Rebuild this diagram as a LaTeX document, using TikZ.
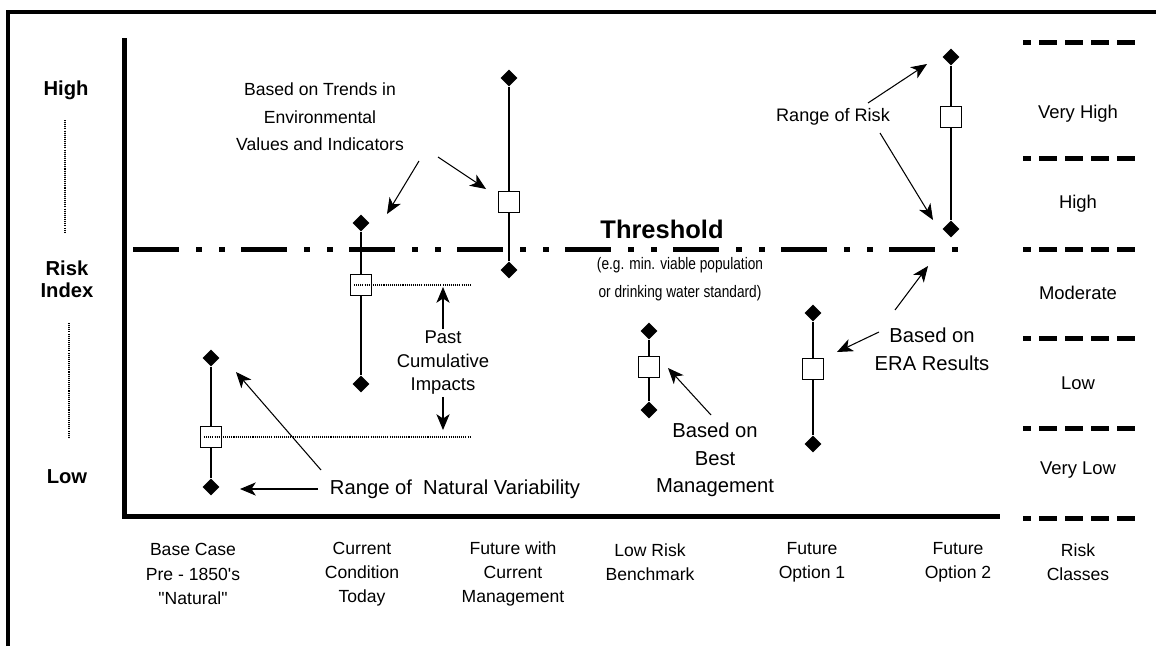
\documentclass[tikz,border=0pt]{standalone}
\usepackage{fontspec}
\setmainfont{Liberation Sans}
\newfontfamily\narrowfont[FakeStretch=0.82]{Liberation Sans}
\usetikzlibrary{calc}
\usetikzlibrary{arrows.meta}
\usetikzlibrary{shapes.geometric}
\newlength{\pxu}
\setlength{\pxu}{0.02cm}

\begin{document}
\begin{tikzpicture}[x=0.02cm, y=-0.02cm,
  dia/.style={diamond, fill=black, inner sep=0pt, minimum size=17\pxu},
  box/.style={draw, fill=white, line width=0.6pt, inner sep=0pt, minimum size=21\pxu},
  bar/.style={line width=0.7pt},
  arr/.style={-{Stealth[length=9pt, width=7.5pt, inset=2.5pt]}, line width=0.6pt},
  past/.style={line width=0.6pt, dash pattern=on 0.6pt off 0.6pt},
  classline/.style={line width=5\pxu, dash pattern=on 18\pxu off 8\pxu, dash phase=10\pxu},
  note/.style={align=center, inner sep=1pt, font=\fontsize{11.5}{16}\selectfont},
  lab/.style={align=center, inner sep=1pt, font=\fontsize{10}{13.7}\selectfont},
  idx/.style={align=center, inner sep=1pt, font=\bfseries\fontsize{11.5}{12.5}\selectfont}]
\useasboundingbox (0,0) rectangle (1156,646);

\draw[line width=4\pxu] (8,646) -- (8,11.5) -- (1156,11.5);
\draw[line width=4.5\pxu] (124.5,38) -- (124.5,516.5) -- (1000,516.5);

\node[idx] (H) at (66,90) {High};
\node[idx] (RI) at (67,279) {Risk\\Index};
\node[idx] (L) at (67,477) {Low};
\draw[past] (65,120) -- (65,232);
\draw[past] (69,323) -- (69,438);

\draw[line width=5\pxu, dash pattern=on 46\pxu off 17\pxu on 6\pxu off 17\pxu on 6\pxu off 16\pxu] (133,249) -- (968,249);
\node[font=\bfseries\fontsize{14.5}{16}\selectfont, inner sep=1pt] (TH) at (662,229) {Threshold};
\node[align=center, inner sep=1pt, font=\narrowfont\fontsize{9.5}{16}\selectfont] (EG) at (680,279) {(e.g. min. viable population\\or drinking water standard)};

\foreach \y in {42,158,249,338,428,518}
  \draw[classline] (1023,\y) -- (1135,\y);
\node[lab, font=\fontsize{10.5}{13}\selectfont] (C1) at (1078,114) {Very High};
\node[lab, font=\fontsize{10.5}{13}\selectfont] (C2) at (1078,204) {High};
\node[lab, font=\fontsize{10.5}{13}\selectfont] (C3) at (1078,293) {Moderate};
\node[lab, font=\fontsize{10.5}{13}\selectfont] (C4) at (1078,383) {Low};
\node[lab, font=\fontsize{10.5}{13}\selectfont] (C5) at (1078,470) {Very Low};

\node[lab] (X1) at (193,574) {Base Case\\Pre - 1850\textquotesingle s\\\textquotedbl Natural\textquotedbl};
\node[lab] (X2) at (362,574) {Current\\Condition\\Today};
\node[lab] (X3) at (513,574) {Future with\\Current\\Management};
\node[lab] (X4) at (650,562) {Low Risk\\Benchmark};
\node[lab] (X5) at (812,562) {Future\\Option 1};
\node[lab] (X6) at (958,562) {Future\\Option 2};
\node[lab] (X7) at (1078,562) {Risk\\Classes};

\node[dia] (T1) at (211,358) {};
\node[box] (S1) at (211,437) {};
\node[dia] (D1) at (211,487) {};
\node[dia] (T2) at (361,223) {};
\node[box] (S2) at (361,285) {};
\node[dia] (D2) at (361,384) {};
\node[dia] (T3) at (509,78) {};
\node[box] (S3) at (509,202) {};
\node[dia] (D3) at (509,270) {};
\node[dia] (T4) at (649,331) {};
\node[box] (S4) at (649,367) {};
\node[dia] (D4) at (649,410) {};
\node[dia] (T5) at (813,313) {};
\node[box] (S5) at (813,369) {};
\node[dia] (D5) at (813,444) {};
\node[dia] (T6) at (951,57) {};
\node[box] (S6) at (951,117) {};
\node[dia] (D6) at (951,229) {};
\foreach \i in {1,...,6}
  \draw[bar] (T\i) -- (S\i) -- (D\i);

\coordinate (P1) at (471,437);
\coordinate (P2) at (471,285);
\draw[past] ($(S1.west)+(4,0)$) -- (P1);
\draw[past] ($(S2.west)+(4,0)$) -- (P2);

\node[note, font=\fontsize{10}{15.7}\selectfont] (TR) at (320,117) {Based on Trends in\\Environmental\\Values and Indicators};
\coordinate (A1) at (419,161);
\coordinate (B1) at (387,214);
\coordinate (A2) at (438,157);
\coordinate (B2) at (486,189);
\draw[arr] (A1) -- (B1);
\draw[arr] (A2) -- (B2);

\node[lab, font=\fontsize{10.5}{13.4}\selectfont] (PC) at (443,363) {Past\\Cumulative\\Impacts};
\coordinate (B3) at (443,287);
\coordinate (B4) at (443,430);
\draw[arr] (PC) -- (B3);
\draw[arr] (PC) -- (B4);

\node[note] (RN) at (455,489) {Range of\ \ Natural Variability};
\coordinate (A5) at (318,489);
\coordinate (B5) at (240,489);
\coordinate (A6) at (321,470);
\coordinate (B6) at (236,372);
\draw[arr] (A5) -- (B5);
\draw[arr] (A6) -- (B6);

\node[note, font=\fontsize{11.5}{15.8}\selectfont] (BM) at (715,460) {Based on\\Best\\Management};
\coordinate (A7) at (711,415);
\coordinate (B7) at (668,368);
\draw[arr] (A7) -- (B7);

\node[note, font=\fontsize{11.5}{15.8}\selectfont] (ER) at (932,349) {Based on\\ERA Results};
\coordinate (A8) at (879,332);
\coordinate (B8) at (837,352);
\coordinate (A9) at (895,310);
\coordinate (B9) at (928,266);
\draw[arr] (A8) -- (B8);
\draw[arr] (A9) -- (B9);

\node[note, font=\fontsize{10.3}{14}\selectfont] (RR) at (833,117) {Range of Risk};
\coordinate (A10) at (868,103);
\coordinate (B10) at (927,64);
\coordinate (A11) at (880,133);
\coordinate (B11) at (933,220);
\draw[arr] (A10) -- (B10);
\draw[arr] (A11) -- (B11);
\end{tikzpicture}
\end{document}
